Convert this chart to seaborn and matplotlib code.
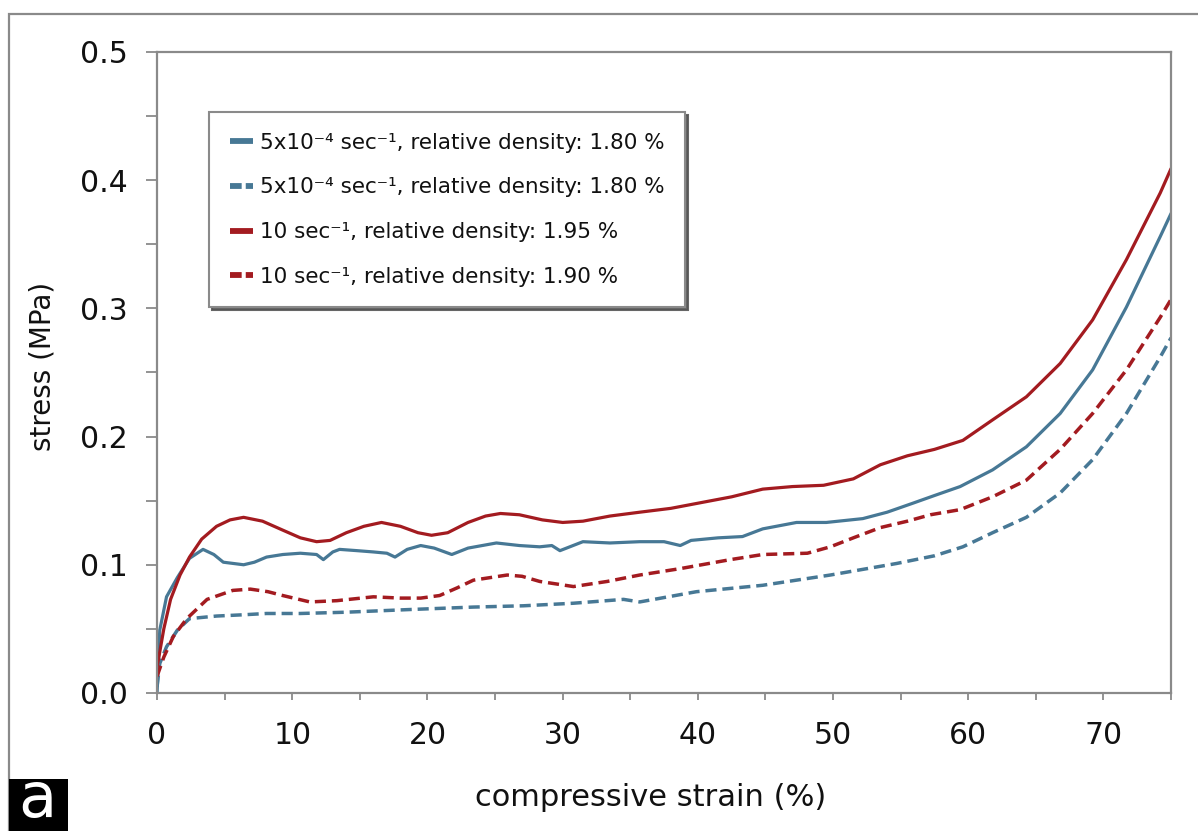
import matplotlib
matplotlib.use("Agg")
import matplotlib.pyplot as plt
from matplotlib.lines import Line2D
from matplotlib.patches import Rectangle
import numpy as np
import pandas as pd
import seaborn as sns

# ---- data: compressive stress-strain curves ----
strain_slow_a = [0, 0.2, 0.7, 1.5, 2.4, 3.4, 4.2, 4.9, 6.4, 7.2, 8.1, 9.3, 10.6, 11.8, 12.3,
                 13.0, 13.5, 14.8, 16.0, 17.0, 17.6, 18.5, 19.5, 20.5, 21.8, 23.0, 25.1, 26.8,
                 28.3, 29.2, 29.8, 31.5, 33.5, 35.7, 37.5, 38.7, 39.5, 41.5, 43.3, 44.8, 47.3,
                 49.5, 52.2, 54.0, 55.9, 57.5, 59.4, 61.8, 64.3, 66.8, 69.2, 71.7, 74.2, 75.0]
stress_slow_a = [0.0, 0.049, 0.075, 0.090, 0.105, 0.112, 0.108, 0.102, 0.100, 0.102, 0.106,
                 0.108, 0.109, 0.108, 0.104, 0.110, 0.112, 0.111, 0.110, 0.109, 0.106, 0.112,
                 0.115, 0.113, 0.108, 0.113, 0.117, 0.115, 0.114, 0.115, 0.111, 0.118, 0.117,
                 0.118, 0.118, 0.115, 0.119, 0.121, 0.122, 0.128, 0.133, 0.133, 0.136, 0.141,
                 0.148, 0.154, 0.161, 0.174, 0.192, 0.218, 0.252, 0.301, 0.356, 0.374]

strain_slow_b = [0, 0.2, 0.7, 1.5, 2.4, 4.4, 6.4, 8.1, 10.6, 14.0, 18.5, 23.4, 27.1, 30.8,
                 34.5, 35.7, 39.9, 44.8, 49.8, 54.7, 57.5, 59.6, 61.8, 64.3, 66.8, 69.2, 71.7,
                 74.2, 75.0]
stress_slow_b = [0.005, 0.023, 0.036, 0.049, 0.058, 0.060, 0.061, 0.062, 0.062, 0.063, 0.065,
                 0.067, 0.068, 0.070, 0.073, 0.071, 0.079, 0.084, 0.092, 0.101, 0.107, 0.114,
                 0.125, 0.137, 0.156, 0.182, 0.218, 0.262, 0.277]

strain_fast_a = [0, 0.5, 1.0, 1.7, 2.4, 3.3, 4.4, 5.4, 6.4, 7.8, 9.3, 10.6, 11.8, 12.8, 14.0,
                 15.3, 16.6, 18.0, 19.3, 20.3, 21.5, 23.0, 24.3, 25.4, 26.8, 28.5, 30.0, 31.5,
                 33.5, 35.7, 38.0, 40.0, 42.5, 44.8, 47.0, 49.3, 51.5, 53.5, 55.5, 57.5, 59.6,
                 61.8, 64.3, 66.8, 69.2, 71.7, 74.2, 75.0]
stress_fast_a = [0.020, 0.050, 0.073, 0.092, 0.106, 0.120, 0.130, 0.135, 0.137, 0.134, 0.127,
                 0.121, 0.118, 0.119, 0.125, 0.130, 0.133, 0.130, 0.125, 0.123, 0.125, 0.133,
                 0.138, 0.140, 0.139, 0.135, 0.133, 0.134, 0.138, 0.141, 0.144, 0.148, 0.153,
                 0.159, 0.161, 0.162, 0.167, 0.178, 0.185, 0.190, 0.197, 0.213, 0.231, 0.257,
                 0.291, 0.338, 0.390, 0.409]

strain_fast_b = [0, 0.5, 1.2, 2.2, 3.7, 5.6, 6.9, 8.2, 9.3, 11.3, 13.3, 16.0, 18.0, 19.5, 20.9,
                 22.2, 23.4, 25.9, 27.0, 28.3, 30.8, 33.3, 35.7, 38.7, 42.4, 44.8, 48.1, 49.8,
                 51.5, 53.5, 55.5, 57.2, 59.4, 61.8, 64.3, 66.8, 69.2, 71.7, 74.2, 75.0]
stress_fast_b = [0.013, 0.028, 0.044, 0.058, 0.073, 0.080, 0.081, 0.079, 0.076, 0.071, 0.072,
                 0.075, 0.074, 0.074, 0.076, 0.082, 0.088, 0.092, 0.091, 0.087, 0.083, 0.087,
                 0.092, 0.097, 0.104, 0.108, 0.109, 0.114, 0.121, 0.129, 0.134, 0.139, 0.143,
                 0.153, 0.166, 0.190, 0.218, 0.252, 0.293, 0.307]

legend_labels = [
    "5x10\u207b\u2074 sec\u207b\u00b9, relative density: 1.80 %",
    "5x10\u207b\u2074 sec\u207b\u00b9, relative density: 1.80 %",
    "10 sec\u207b\u00b9, relative density: 1.95 %",
    "10 sec\u207b\u00b9, relative density: 1.90 %",
]
x_tick_labels = ["0", "10", "20", "30", "40", "50", "60", "70"]
y_tick_labels = ["0.0", "0.1", "0.2", "0.3", "0.4", "0.5"]

BLUE = "#477895"
RED = "#a31b20"
GRAY = "#8a8a8a"

sns.set_theme(style="white")
plt.rcParams["font.family"] = ["DejaVu Sans"]

fig = plt.figure(figsize=(11.98, 8.31), dpi=100)
ax = fig.add_axes([0.1311, 0.1661, 0.8464, 0.7714])

series = [
    (strain_slow_a, stress_slow_a, BLUE, "-", 2.3),
    (strain_slow_b, stress_slow_b, BLUE, (0, (3.2, 1.7)), 2.5),
    (strain_fast_a, stress_fast_a, RED, "-", 2.3),
    (strain_fast_b, stress_fast_b, RED, (0, (3.2, 1.7)), 2.5),
]
for xs, ys, col, ls, lw in series:
    df = pd.DataFrame({"strain": xs, "stress": ys})
    sns.lineplot(data=df, x="strain", y="stress", ax=ax, color=col, linewidth=lw,
                 sort=False, estimator=None, legend=False)
    ax.lines[-1].set_linestyle(ls)

ax.set_xlim(0, 75)
ax.set_ylim(0, 0.5)
ax.set_xticks(np.arange(0, 71, 10))
ax.set_xticklabels(x_tick_labels)
ax.set_xticks(np.arange(0, 76, 5), minor=True)
ax.set_yticks(np.arange(0, 0.51, 0.1))
ax.set_yticklabels(y_tick_labels)
ax.set_yticks(np.arange(0, 0.51, 0.05), minor=True)

ax.tick_params(axis="x", which="both", direction="out", length=5, width=1.3,
               color=GRAY, labelsize=21.5, pad=15, labelcolor="#111111", bottom=True)
ax.tick_params(axis="y", which="both", direction="out", length=8, width=1.3,
               color=GRAY, labelsize=21.5, pad=13, labelcolor="#111111", left=True)

for sp in ax.spines.values():
    sp.set_color(GRAY)
    sp.set_linewidth(1.6)
    sp.set_visible(True)

ax.set_xlabel("compressive strain (%)", fontsize=22, color="#111111")
ax.set_ylabel("stress (MPa)", fontsize=20, color="#111111")
ax.xaxis.set_label_coords(0.487, -0.141)
ax.yaxis.set_label_coords(-0.099, 0.509)

handles = [
    Line2D([], [], color=BLUE, lw=4.2, solid_capstyle="butt"),
    Line2D([], [], color=BLUE, lw=4.2, linestyle=(0, (2.0, 0.7)), dash_capstyle="butt"),
    Line2D([], [], color=RED, lw=4.2, solid_capstyle="butt"),
    Line2D([], [], color=RED, lw=4.2, linestyle=(0, (2.0, 0.7)), dash_capstyle="butt"),
]
leg = ax.legend(handles, legend_labels, loc="upper left",
                bbox_to_anchor=(0.0513, 0.906), fontsize=15.5,
                handlelength=1.1, handletextpad=0.3, labelspacing=1.15,
                borderpad=0.95, borderaxespad=0, frameon=True, fancybox=False,
                shadow={"color": "#555555", "alpha": 0.9})
leg.get_frame().set_edgecolor(GRAY)
leg.get_frame().set_linewidth(1.5)
for t in leg.get_texts():
    t.set_color("#111111")

# outer panel frame
fig.add_artist(Rectangle((9 / 1198, -0.2), 1.2, 0.2 + (1 - 14 / 831),
                         transform=fig.transFigure, fill=False,
                         edgecolor=GRAY, linewidth=1.6))
# panel tag
fig.add_artist(Rectangle((9 / 1198, 0), 59 / 1198, 52 / 831,
                         transform=fig.transFigure, facecolor="black",
                         edgecolor="none"))
fig.text(37 / 1198, 1 / 831, "a", color="white", fontsize=45,
         ha="center", va="bottom")

fig.savefig("out.png", dpi=100)
